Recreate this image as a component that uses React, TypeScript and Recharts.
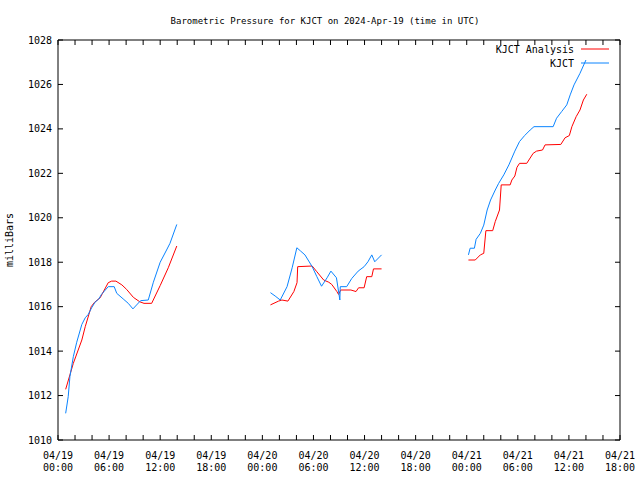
import { LineChart, Line, XAxis, YAxis } from 'recharts'

// hours since 2024-04-19 00:00 UTC; null marks a gap in the record
const kjctHours = [
  0.9, 1.2, 1.4, 1.8, 2.2, 2.8, 3.2, 3.55, 3.95, 4.35, 4.8, 5.1, 5.9, 6.6, 6.9, 7.65, 8.25, 8.8, 9.7, 10.6, 11.2, 12.0, 12.75, 13.15, 13.95,
  19,
  24.95, 25.5, 26.1, 26.9, 27.5, 28.05, 28.5, 29.0, 29.85, 30.4, 30.95, 31.6, 32.05, 32.7, 33.0, 33.1, 33.15, 33.9, 34.5, 35.25, 35.95, 36.4, 36.85, 37.2, 38.0,
  43,
  48.2, 48.4, 48.9, 49.1, 49.6, 50.0, 50.4, 50.8, 51.35, 51.75, 52.35, 52.95, 53.65, 54.2, 54.8, 55.45, 55.9, 58.15, 58.55, 59.15, 59.75, 60.15, 60.6, 61.3, 62.0,
]
const kjctMb = [
  1011.2, 1011.95, 1012.85, 1013.75, 1014.4, 1015.2, 1015.5, 1015.65, 1015.95, 1016.2, 1016.35, 1016.55, 1016.9, 1016.9, 1016.6, 1016.35, 1016.15, 1015.9, 1016.27, 1016.3, 1017.1, 1018.0, 1018.55, 1018.85, 1019.7,
  null,
  1016.63, 1016.48, 1016.3, 1016.9, 1017.75, 1018.65, 1018.5, 1018.33, 1017.8, 1017.35, 1016.92, 1017.3, 1017.6, 1017.3, 1016.55, 1016.3, 1016.9, 1016.9, 1017.27, 1017.6, 1017.8, 1018.02, 1018.33, 1018.02, 1018.33,
  null,
  1018.33, 1018.63, 1018.63, 1019.03, 1019.3, 1019.67, 1020.35, 1020.8, 1021.25, 1021.55, 1021.93, 1022.38, 1023.0, 1023.43, 1023.7, 1023.95, 1024.1, 1024.1, 1024.48, 1024.78, 1025.08, 1025.53, 1025.98, 1026.5, 1027.1,
]

const analysisHours = [
  0.9, 1.4, 1.8, 2.8, 3.2, 3.9, 4.3, 4.95, 5.9, 6.3, 6.8, 7.5, 8.05, 8.85, 9.6, 10.1, 11.0, 12.0, 12.95, 13.95,
  19,
  24.95, 25.9, 26.3, 27.0, 27.7, 28.07, 28.15, 29.85, 30.4, 31.2, 31.8, 32.15, 32.75, 32.95, 33.2, 34.4, 35.0, 35.3, 35.95, 36.25, 36.85, 37.05, 38.0,
  43,
  48.2, 49.0, 49.6, 50.0, 50.25, 51.05, 51.35, 51.85, 52.05, 53.1, 53.3, 53.65, 53.9, 54.2, 55.05, 55.8, 56.2, 56.9, 57.2, 59.05, 59.55, 60.05, 60.35, 60.85, 61.3, 61.7, 62.1,
]
const analysisMb = [
  1012.28, 1012.93, 1013.45, 1014.5, 1015.1, 1016.0, 1016.2, 1016.4, 1017.08, 1017.15, 1017.15, 1016.98, 1016.78, 1016.42, 1016.22, 1016.15, 1016.15, 1016.95, 1017.75, 1018.73,
  null,
  1016.08, 1016.25, 1016.3, 1016.25, 1016.68, 1017.08, 1017.8, 1017.83, 1017.57, 1017.2, 1017.1, 1017.0, 1016.68, 1016.55, 1016.75, 1016.75, 1016.68, 1016.85, 1016.85, 1017.35, 1017.35, 1017.7, 1017.7,
  null,
  1018.1, 1018.1, 1018.33, 1018.4, 1019.42, 1019.42, 1019.83, 1020.35, 1021.48, 1021.48, 1021.7, 1021.88, 1022.27, 1022.45, 1022.45, 1022.9, 1023.0, 1023.05, 1023.28, 1023.3, 1023.6, 1023.7, 1024.1, 1024.55, 1024.85, 1025.3, 1025.56,
]

const yTicks = [1010, 1012, 1014, 1016, 1018, 1020, 1022, 1024, 1026, 1028]
const xTicks = [0, 2, 4, 6, 8, 10, 12, 14, 16, 18, 20, 22, 24, 26, 28, 30, 32, 34, 36, 38, 40, 42, 44, 46, 48, 50, 52, 54, 56, 58, 60, 62, 64, 66]
const labelDays = ['04/19', '04/19', '04/19', '04/19', '04/20', '04/20', '04/20', '04/20', '04/21', '04/21', '04/21', '04/21']
const labelTimes = ['00:00', '06:00', '12:00', '18:00', '00:00', '06:00', '12:00', '18:00', '00:00', '06:00', '12:00', '18:00']

const kjctData = kjctHours.map((h, i) => ({ h, mb: kjctMb[i] }))
const analysisData = analysisHours.map((h, i) => ({ h, mb: analysisMb[i] }))

const FONT = '"DejaVu Sans Mono", "Liberation Mono", monospace'
const RED = '#ff0000'
const BLUE = '#0a84ff'

const BottomTick = (props: any) => {
  const { x, y, payload } = props
  const v = payload.value
  const idx = v / 6
  return (
    <g>
      <line x1={x} x2={x} y1={y} y2={y - 5} stroke="#000" />
      {v % 6 === 0 && (
        <>
          <text x={x} y={y + 19} textAnchor="middle" fontFamily={FONT} fontSize={10} fill="#000">{labelDays[idx]}</text>
          <text x={x} y={y + 31} textAnchor="middle" fontFamily={FONT} fontSize={10} fill="#000">{labelTimes[idx]}</text>
        </>
      )}
    </g>
  )
}

const TopTick = (props: any) => {
  const { x, y } = props
  return <line x1={x} x2={x} y1={y} y2={y + 5} stroke="#000" />
}

const LeftTick = (props: any) => {
  const { x, y, payload } = props
  return (
    <g>
      <line x1={x} x2={x + 5} y1={y} y2={y} stroke="#000" />
      <text x={x - 6} y={y} dy="0.35em" textAnchor="end" fontFamily={FONT} fontSize={10} fill="#000">{payload.value}</text>
    </g>
  )
}

const RightTick = (props: any) => {
  const { x, y } = props
  return <line x1={x} x2={x - 5} y1={y} y2={y} stroke="#000" />
}

export default function App() {
  return (
    <div style={{ position: 'absolute', left: 0, top: 0, width: 640, height: 480, background: '#fff' }}>
      <LineChart width={640} height={480} margin={{ top: 0, right: 0, left: 0, bottom: 0 }}>
        <XAxis
          dataKey="h"
          type="number"
          domain={[0, 66]}
          allowDataOverflow
          ticks={xTicks}
          interval={0}
          height={40}
          tickSize={0}
          tickMargin={0}
          axisLine={{ stroke: '#000' }}
          tickLine={false}
          tick={(p: any) => <BottomTick {...p} />}
        />
        <XAxis
          xAxisId="top"
          orientation="top"
          dataKey="h"
          type="number"
          domain={[0, 66]}
          allowDataOverflow
          ticks={xTicks}
          interval={0}
          height={40}
          tickSize={0}
          tickMargin={0}
          axisLine={{ stroke: '#000' }}
          tickLine={false}
          tick={(p: any) => <TopTick {...p} />}
        />
        <YAxis
          type="number"
          domain={[1010, 1028]}
          allowDataOverflow
          ticks={yTicks}
          interval={0}
          width={58}
          tickSize={0}
          tickMargin={0}
          axisLine={{ stroke: '#000' }}
          tickLine={false}
          tick={(p: any) => <LeftTick {...p} />}
        />
        <YAxis
          yAxisId="r"
          orientation="right"
          type="number"
          domain={[1010, 1028]}
          allowDataOverflow
          ticks={yTicks}
          interval={0}
          width={20}
          tickSize={0}
          tickMargin={0}
          axisLine={{ stroke: '#000' }}
          tickLine={false}
          tick={(p: any) => <RightTick {...p} />}
        />
        <Line
          data={analysisData}
          dataKey="mb"
          type="linear"
          stroke={RED}
          strokeWidth={1}
          dot={false}
          connectNulls={false}
          isAnimationActive={false}
        />
        <Line
          data={kjctData}
          dataKey="mb"
          type="linear"
          stroke={BLUE}
          strokeWidth={1}
          dot={false}
          connectNulls={false}
          isAnimationActive={false}
        />
      </LineChart>
      <svg width={640} height={480} style={{ position: 'absolute', left: 0, top: 0, pointerEvents: 'none' }}>
        <text x={325} y={24} textAnchor="middle" fontFamily={FONT} fontSize={9} fill="#000">
          Barometric Pressure for KJCT on 2024-Apr-19 (time in UTC)
        </text>
        <text
          x={13}
          y={240}
          transform="rotate(-90 13 240)"
          textAnchor="middle"
          fontFamily={FONT}
          fontSize={10}
          fill="#000"
        >
          milliBars
        </text>
        <text x={574} y={53} textAnchor="end" fontFamily={FONT} fontSize={10} fill="#000">KJCT Analysis</text>
        <line x1={581} x2={609} y1={49} y2={49} stroke={RED} />
        <text x={574} y={67} textAnchor="end" fontFamily={FONT} fontSize={10} fill="#000">KJCT</text>
        <line x1={581} x2={609} y1={63} y2={63} stroke={BLUE} />
      </svg>
    </div>
  )
}
